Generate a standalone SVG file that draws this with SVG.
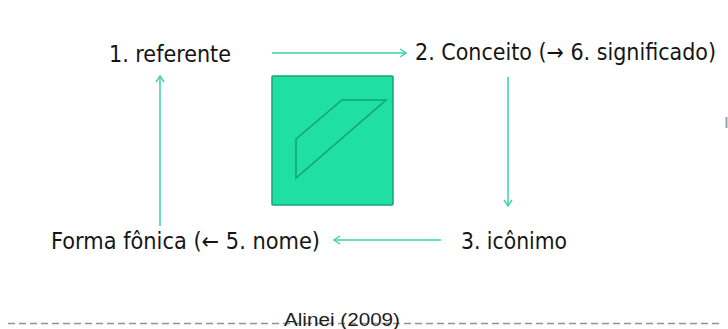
<svg xmlns="http://www.w3.org/2000/svg" width="728" height="329" viewBox="0 0 728 329">
<defs>
<marker id="ah" viewBox="0 0 10 10" refX="9" refY="5" markerWidth="10" markerHeight="10" markerUnits="userSpaceOnUse" orient="auto">
<path d="M3,1 L9,5 L3,9" fill="none" stroke="#3dd3a6" stroke-width="1.4"/>
</marker>
<style>
.lbl{font-family:"DejaVu Sans Condensed","DejaVu Sans",sans-serif;font-size:23px;fill:#151515}
.conn{stroke:#3dd3a6;stroke-width:1.5;fill:none;marker-end:url(#ah)}
.cap{font-family:"Liberation Sans",Arial,sans-serif;font-size:18px;fill:#1e1e1e}
</style>
</defs>
<rect width="728" height="329" fill="#ffffff"/>
<g id="connectors">
<line class="conn" x1="272" y1="53" x2="406" y2="53"/>
<line class="conn" x1="508" y1="77" x2="508" y2="206"/>
<line class="conn" x1="441" y1="240" x2="334" y2="240"/>
<line class="conn" x1="160" y1="226" x2="160" y2="76"/>
</g>
<g id="icon">
<rect x="272" y="76" width="121" height="129" fill="#1fe0a0" stroke="#15a474" stroke-width="1.5" rx="1"/>
<polygon points="296,139 342,100 386,100 296,178" fill="none" stroke="#15a474" stroke-width="1.6"/>
</g>
<g id="referente"><text class="lbl" x="109" y="62" textLength="122" lengthAdjust="spacingAndGlyphs">1. referente</text></g>
<g id="conceito"><text class="lbl" x="415" y="60" textLength="301" lengthAdjust="spacingAndGlyphs">2. Conceito (→ 6. significado)</text></g>
<g id="iconimo"><text class="lbl" x="461" y="249" textLength="106" lengthAdjust="spacingAndGlyphs">3. icônimo</text></g>
<g id="forma"><text class="lbl" x="51" y="249" textLength="269" lengthAdjust="spacingAndGlyphs">Forma fônica (← 5. nome)</text></g>
<line x1="8" y1="323.5" x2="722" y2="323.5" stroke="#8c969c" stroke-width="1.3" stroke-dasharray="7 4"/>
<text class="cap" x="284" y="326" textLength="116" lengthAdjust="spacingAndGlyphs">Alinei (2009)</text>
<rect x="725.5" y="117" width="2" height="11" fill="#9aa3a8"/>
</svg>
